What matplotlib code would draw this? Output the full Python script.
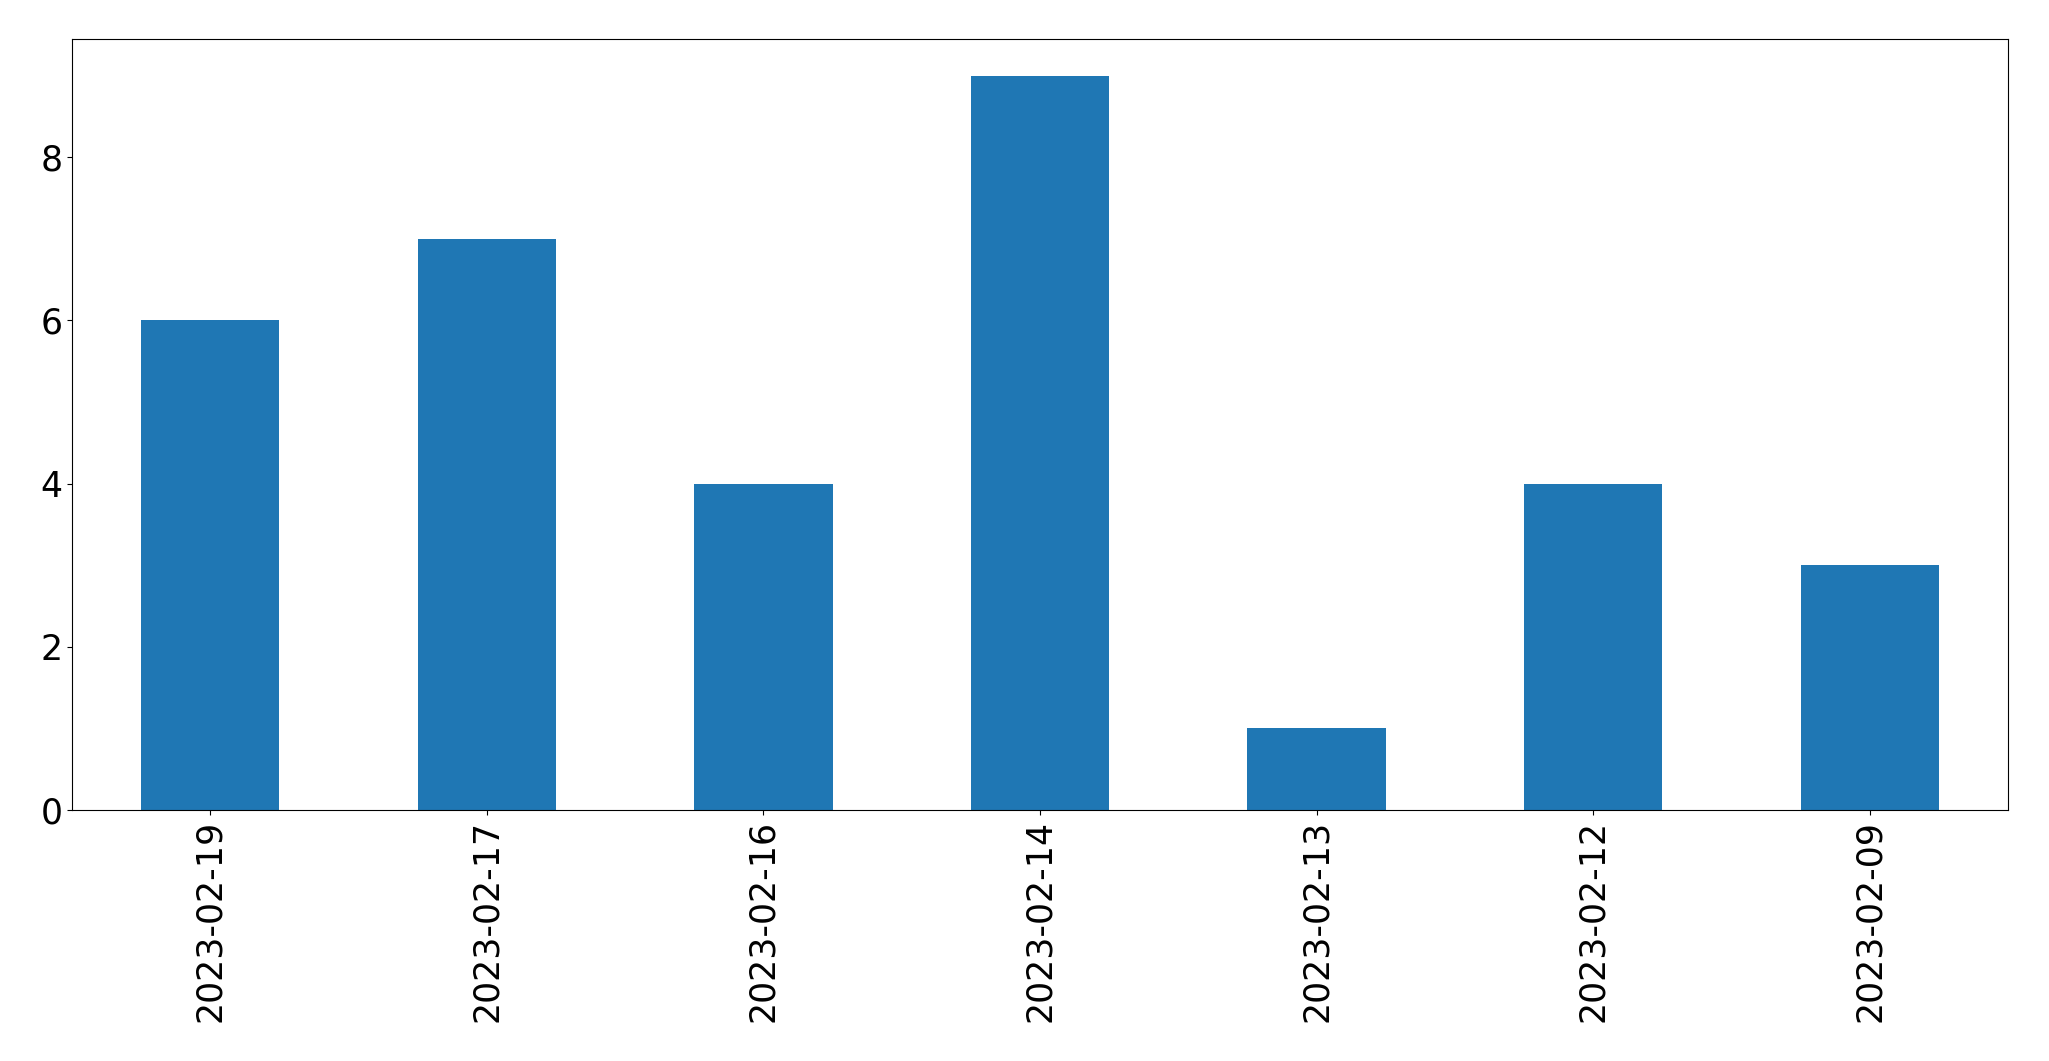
import matplotlib
matplotlib.use("Agg")
import matplotlib.pyplot as plt
import pandas as pd

dates = ["2023-02-19", "2023-02-17", "2023-02-16", "2023-02-14",
         "2023-02-13", "2023-02-12", "2023-02-09"]
counts = [6, 7, 4, 9, 1, 4, 3]

s = pd.Series(counts, index=dates)

fig = plt.figure(figsize=(20.49, 10.61), dpi=100)
ax = fig.add_axes([72 / 2049, 1 - 810 / 1061, (2008 - 72) / 2049, (810 - 39) / 1061])
s.plot(kind="bar", ax=ax, color="#1f77b4", width=0.5)
ax.tick_params(labelsize=25)
fig.savefig("out.png", dpi=100)
